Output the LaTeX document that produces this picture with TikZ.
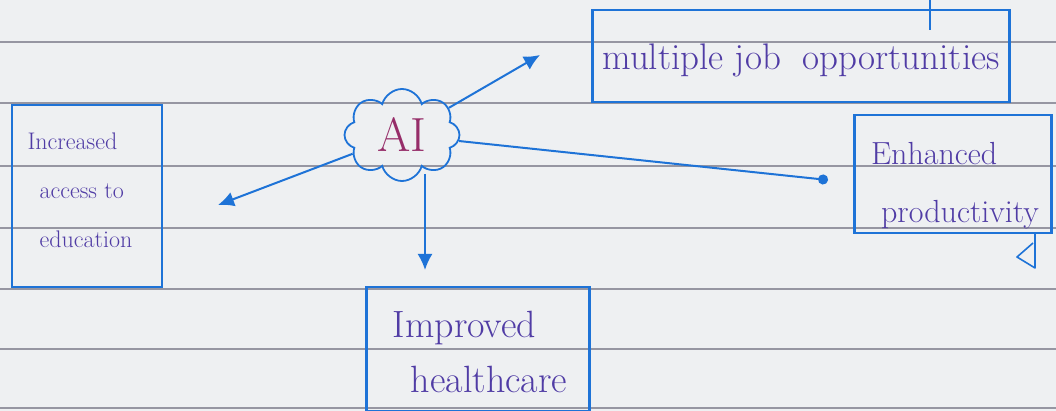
\documentclass[tikz,border=0pt]{standalone}
\usetikzlibrary{shapes.symbols,arrows.meta}
\definecolor{pen}{RGB}{30,115,215}
\definecolor{ink}{RGB}{80,60,165}
\definecolor{redink}{RGB}{150,45,105}
\definecolor{paper}{RGB}{238,240,242}
\definecolor{rule}{RGB}{150,150,162}
\begin{document}
\begin{tikzpicture}[x=1pt,y=-1pt,
    box/.style={draw=pen,line width=2.4pt,inner sep=0pt},
    hand/.style={text=ink,align=left,inner sep=0pt},
    arr/.style={draw=pen,line width=2pt,-{Latex[length=16pt,width=15pt]}}]
  \fill[paper] (0,0) rectangle (1056,411);
  \useasboundingbox (0,0) rectangle (1056,411);
  % ruled lines of the page
  \foreach \y in {42,103,166,228,289,349,408}
    \draw[rule,line width=1.2pt] (0,\y) -- (1056,\y);

  \node[cloud,cloud puffs=8,cloud ignores aspect,draw=pen,line width=1.8pt,inner sep=0pt,
        minimum width=115pt,minimum height=92pt,text=redink,
        font=\fontsize{48}{48}\selectfont] (ai) at (402,135) {AI};

  % boxes
  \node[box,minimum width=150pt,minimum height=182pt] (educ) at (87,196) {};
  \node[box,minimum width=417pt,minimum height=92pt] (jobs) at (801,56) {};
  \node[box,minimum width=197pt,minimum height=118pt] (prod) at (953,174) {};
  \node[box,minimum width=223pt,minimum height=124pt] (health) at (478,349) {};

  % handwriting in the boxes
  \node[hand,font=\fontsize{24}{49}\selectfont] (eductext) at (80,190)
    {Increased\\\hspace{12pt}access to\\\hspace{12pt}education};
  \node[hand,font=\fontsize{37}{44}\selectfont] (jobstext) at (801,60)
    {multiple job\hspace{22pt}opportunities};
  \node[hand,font=\fontsize{32}{58}\selectfont] (prodtext) at (955,186)
    {Enhanced\\\hspace{10pt}productivity};
  \node[hand,font=\fontsize{38}{55}\selectfont] (healthtext) at (480,352)
    {Improved\\\hspace{18pt}healthcare};

  % free ends of the arrows
  \coordinate (jobtip) at (540,55);
  \coordinate (eductip) at (218,205);
  \coordinate (healthtip) at (425,270);
  \coordinate (proddot) at (828,180);

  \draw[arr] (ai) -- (jobtip);
  \draw[arr] (ai) -- (eductip);
  \draw[arr] (ai.south -| healthtip) ++(0,-8) -- (healthtip);
  \draw[pen,line width=2pt,-{Circle[length=10pt]}] (ai) -- (proddot);

  % strokes running off the page
  \draw[pen,line width=1.6pt] (930,0) -- (930,30);
  \draw[pen,line width=1.6pt,line join=round] (1035,234) -- (1035,268) -- (1017,257) -- (1033,243);
\end{tikzpicture}
\end{document}
